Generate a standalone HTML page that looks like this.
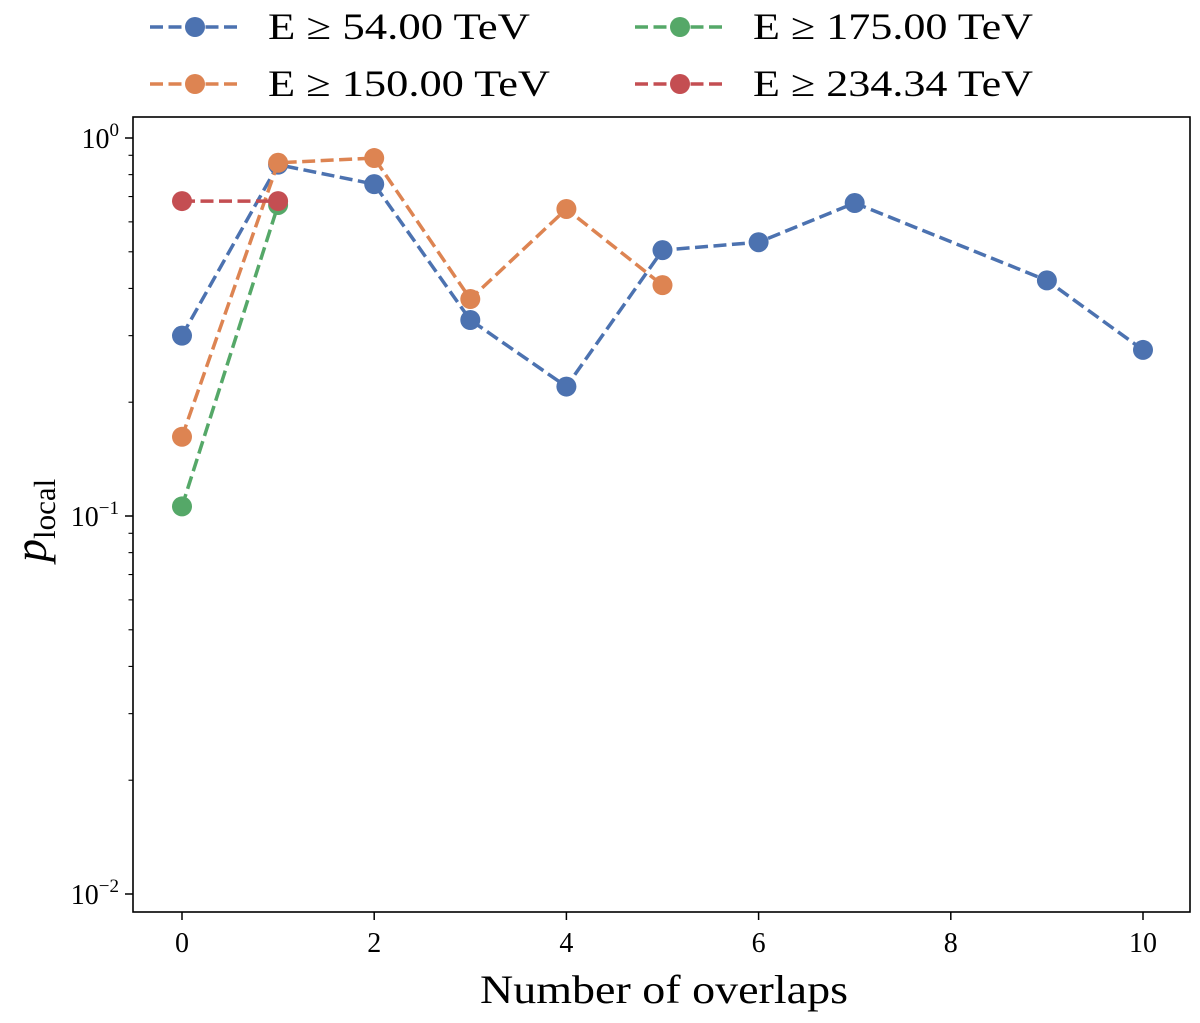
<!DOCTYPE html>
<html><head><meta charset="utf-8"><style>
body{margin:0;background:#fff}
svg text{font-family:"Liberation Serif","DejaVu Serif",serif;fill:#000}
</style></head><body>
<svg id="chart" width="1200" height="1018" xmlns="http://www.w3.org/2000/svg"></svg>
<script>
const xCategories=[0,1,2,3,4,5,6,7,9,10];
const blueValues=[0.30,0.85,0.755,0.33,0.22,0.505,0.53,0.673,0.42,0.275];
const orangeX=[0,1,2,3,4,5];
const orangeValues=[0.162,0.86,0.885,0.375,0.649,0.408];
const greenX=[0,1];
const greenValues=[0.106,0.665];
const redX=[0,1];
const redValues=[0.681,0.681];
const xTicks=[0,2,4,6,8,10];
const yTickExp=[0,-1,-2];
const legendLabels=["E ≥ 54.00 TeV","E ≥ 150.00 TeV","E ≥ 175.00 TeV","E ≥ 234.34 TeV"];
const colors=["#4c72b0","#dd8452","#55a868","#c44e52"];

const L=133,R=1190,T=117,B=912;
const xs=v=>182+v*96.1;
const ys=v=>138-Math.log10(v)*378;
const svg=document.getElementById('chart');
const NS="http://www.w3.org/2000/svg";
function mk(tag,attrs,parent){const e=document.createElementNS(NS,tag);for(const k in attrs)e.setAttribute(k,attrs[k]);(parent||svg).appendChild(e);return e;}

const frame=mk('rect',{x:L,y:T,width:R-L,height:B-T,fill:'none',stroke:'#000','stroke-width':1.6});



xTicks.forEach(t=>{
  const x=xs(t);
  const tk=mk('line',{x1:x,x2:x,y1:B,y2:B+8,stroke:'#000','stroke-width':1.5});
  
  
  const lb=mk('text',{x:x,y:B+40,'text-anchor':'middle','font-size':28});
  lb.textContent=t;
  
  
});
yTickExp.forEach(e=>{
  const y=ys(Math.pow(10,e));
  const tk=mk('line',{x1:L-8,x2:L,y1:y,y2:y,stroke:'#000','stroke-width':1.5});
  
  
  const lb=mk('text',{x:L-14,y:y+10,'text-anchor':'end','font-size':28});
  lb.innerHTML='10<tspan dy="-12" font-size="19">'+(e<0?'−'+(-e):e)+'</tspan>';
  
  
});
[-1,-2].forEach(e=>{for(let m=2;m<10;m++){
  const y=ys(m*Math.pow(10,e));
  if(y<T||y>B)continue;
  const tk=mk('line',{x1:L-4.5,x2:L,y1:y,y2:y,stroke:'#000','stroke-width':1.1});
  
  
}});
const xl=mk('text',{x:480,y:1003,'font-size':40,textLength:368,lengthAdjust:'spacingAndGlyphs'});
xl.textContent='Number of overlaps';


const yl=mk('text',{x:0,y:0,'font-size':46,'font-style':'italic',transform:'translate(46,562) rotate(-90)'});
yl.innerHTML='p<tspan dy="9" font-size="31" font-style="normal">local</tspan>';



const series=[[xCategories,blueValues],[orangeX,orangeValues],[greenX,greenValues],[redX,redValues]];
const names=['series-54tev','series-150tev','series-175tev','series-234tev'];
series.forEach((s,i)=>{
  const g=mk('g',{});
  
  
  const pts=s[0].map((x,j)=>xs(x)+','+ys(s[1][j])).join(' ');
  const pl=mk('polyline',{points:pts,fill:'none',stroke:colors[i],'stroke-width':3.5,'stroke-dasharray':'13,5.5'},g);
  
  
  s[0].forEach((x,j)=>{
    const c=mk('circle',{cx:xs(x),cy:ys(s[1][j]),r:10,fill:colors[i]},g);
    
    
  });
});

const lpos=[[150,27],[150,84],[635,27],[635,84]];
const lwid=[262,282,280,280];
legendLabels.forEach((t,i)=>{
  const g=mk('g',{});
  
  
  const [x,y]=lpos[i];
  mk('line',{x1:x,x2:x+90,y1:y,y2:y,stroke:colors[i],'stroke-width':3.5,'stroke-dasharray':'13,5.5'},g);
  mk('circle',{cx:x+45,cy:y,r:10,fill:colors[i]},g);
  const tx=mk('text',{x:x+118,y:y+12,'font-size':37,textLength:lwid[i],lengthAdjust:'spacingAndGlyphs'},g);
  tx.textContent=t;
});
</script>
</body></html>
